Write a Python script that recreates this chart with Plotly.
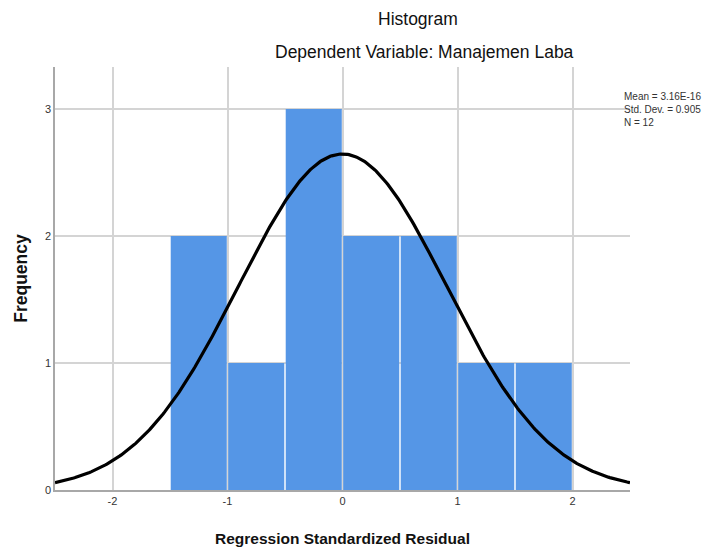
import numpy as np
import plotly.graph_objects as go

bin_centers = [-1.25, -0.75, -0.25, 0.25, 0.75, 1.25, 1.75]
counts = [2, 1, 3, 2, 2, 1, 1]
bin_width = 0.5
mean = 3.16e-16
std = 0.905
n = 12
x_ticks = [-2, -1, 0, 1, 2]
y_ticks = [0, 1, 2, 3]

xs = np.linspace(-2.5, 2.5, 400)
ys = n * bin_width * np.exp(-0.5 * ((xs - mean) / std) ** 2) / (std * np.sqrt(2 * np.pi))

font = "Arial, Liberation Sans, sans-serif"

# page has an 8px body margin; plot area target (page px): x 53..630, y 67..490
off = 8
pl, pr, pt, pb = 53 - off, 630 - off, 67 - off, 490 - off
W, H = 723, 551

def px(x):
    return (x - off - pl) / (pr - pl)

def py(y):
    return (pb - (y - off)) / (pb - pt)

fig = go.Figure()
fig.add_trace(go.Bar(x=bin_centers, y=counts, width=[bin_width * 0.975] * len(counts),
                     marker=dict(color="#5596E6", line=dict(width=0)), hoverinfo="skip"))
fig.add_trace(go.Scatter(x=xs, y=ys, mode="lines", line=dict(color="black", width=3.2), hoverinfo="skip"))

fig.update_layout(
    width=W, height=H,
    margin=dict(l=pl, r=W - pr, t=pt, b=H - pb),
    paper_bgcolor="white", plot_bgcolor="white",
    showlegend=False,
    font=dict(family=font, color="#333333"),
    xaxis=dict(range=[-2.5, 2.5], tickvals=x_ticks, ticktext=[str(v) for v in x_ticks],
               showgrid=True, gridcolor="#d4d4d4", gridwidth=1.5, zeroline=False,
               showline=True, linecolor="#a8a8a8", linewidth=1.5,
               ticks="outside", ticklen=0, tickfont=dict(size=11, color="#333333"),
               title=dict(text="<b>Regression Standardized Residual</b>", font=dict(size=15.5, color="#111111"), standoff=27)),
    yaxis=dict(range=[0, 3.33], tickvals=y_ticks, ticktext=[str(v) for v in y_ticks],
               showgrid=True, gridcolor="#d4d4d4", gridwidth=1.5, zeroline=False,
               showline=True, linecolor="#a8a8a8", linewidth=1.5,
               ticks="outside", ticklen=0, tickfont=dict(size=11, color="#333333"),
               title=dict(text="<b>Frequency</b>", font=dict(size=17.5, color="#111111"), standoff=13)),
    annotations=[
        dict(text="Histogram", x=px(417), y=py(19), xref="paper", yref="paper", showarrow=False,
             xanchor="center", yanchor="middle", font=dict(size=17.5, color="#111111")),
        dict(text="Dependent Variable: Manajemen Laba", x=px(424), y=py(52), xref="paper", yref="paper",
             showarrow=False, xanchor="center", yanchor="middle", font=dict(size=17.5, color="#111111")),
        dict(text="Mean = 3.16E-16<br>Std. Dev. = 0.905<br>N = 12", x=px(622), y=py(109),
             xref="paper", yref="paper", showarrow=False,
             xanchor="left", yanchor="middle", align="left",
             font=dict(size=10, color="#333333")),
    ],
)

fig.write_html("out.html")
